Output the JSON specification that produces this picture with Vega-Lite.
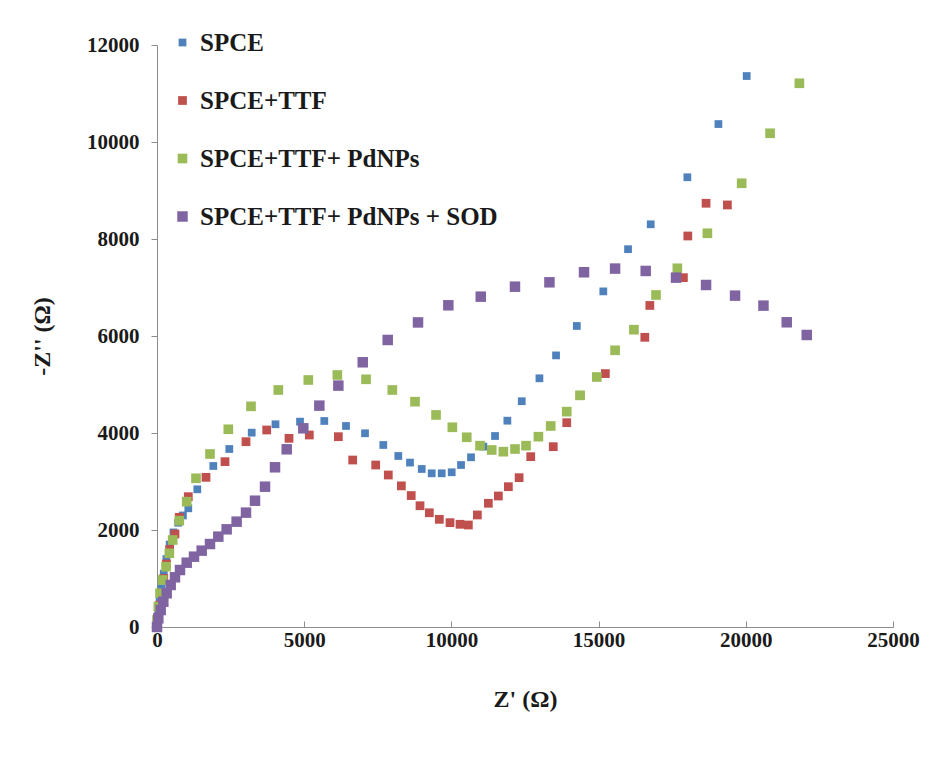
{
  "$schema": "https://vega.github.io/schema/vega-lite/v6.json",
  "width": 736,
  "height": 582,
  "autosize": {"type": "none"},
  "padding": {"left": 157, "top": 45, "right": 42, "bottom": 132},
  "background": "white",
  "config": {"view": {"stroke": null}, "font": "Liberation Serif"},
  "datasets": {
    "pts": [
      {"s":"SPCE","x":0,"y":0},{"s":"SPCE","x":40,"y":250},{"s":"SPCE","x":90,"y":520},{"s":"SPCE","x":150,"y":800},{"s":"SPCE","x":230,"y":1100},{"s":"SPCE","x":320,"y":1400},{"s":"SPCE","x":430,"y":1700},{"s":"SPCE","x":560,"y":1950},{"s":"SPCE","x":720,"y":2150},{"s":"SPCE","x":880,"y":2300},{"s":"SPCE","x":1063,"y":2447},{"s":"SPCE","x":1369,"y":2839},{"s":"SPCE","x":1913,"y":3320},{"s":"SPCE","x":2456,"y":3670},{"s":"SPCE","x":3217,"y":4007},{"s":"SPCE","x":4025,"y":4180},{"s":"SPCE","x":4858,"y":4234},{"s":"SPCE","x":5683,"y":4248},{"s":"SPCE","x":6420,"y":4145},{"s":"SPCE","x":7066,"y":3994},{"s":"SPCE","x":7687,"y":3753},{"s":"SPCE","x":8197,"y":3526},{"s":"SPCE","x":8594,"y":3390},{"s":"SPCE","x":8992,"y":3258},{"s":"SPCE","x":9331,"y":3169},{"s":"SPCE","x":9671,"y":3169},{"s":"SPCE","x":10010,"y":3190},{"s":"SPCE","x":10327,"y":3340},{"s":"SPCE","x":10667,"y":3499},{"s":"SPCE","x":11085,"y":3720},{"s":"SPCE","x":11482,"y":3938},{"s":"SPCE","x":11901,"y":4254},{"s":"SPCE","x":12390,"y":4655},{"s":"SPCE","x":12990,"y":5128},{"s":"SPCE","x":13555,"y":5600},{"s":"SPCE","x":14260,"y":6207},{"s":"SPCE","x":15160,"y":6920},{"s":"SPCE","x":16000,"y":7790},{"s":"SPCE","x":16770,"y":8303},{"s":"SPCE","x":18015,"y":9273},{"s":"SPCE","x":19070,"y":10370},{"s":"SPCE","x":20030,"y":11360},
      {"s":"SPCE+TTF","x":0,"y":0},{"s":"SPCE+TTF","x":40,"y":200},{"s":"SPCE+TTF","x":90,"y":450},{"s":"SPCE+TTF","x":150,"y":700},{"s":"SPCE+TTF","x":230,"y":1000},{"s":"SPCE+TTF","x":320,"y":1300},{"s":"SPCE+TTF","x":430,"y":1600},{"s":"SPCE+TTF","x":611,"y":1918},{"s":"SPCE+TTF","x":757,"y":2262},{"s":"SPCE+TTF","x":1063,"y":2687},{"s":"SPCE+TTF","x":1665,"y":3086},{"s":"SPCE+TTF","x":2310,"y":3409},{"s":"SPCE+TTF","x":3023,"y":3821},{"s":"SPCE+TTF","x":3727,"y":4062},{"s":"SPCE+TTF","x":4484,"y":3890},{"s":"SPCE+TTF","x":5174,"y":3959},{"s":"SPCE+TTF","x":6160,"y":3924},{"s":"SPCE+TTF","x":6647,"y":3443},{"s":"SPCE+TTF","x":7429,"y":3340},{"s":"SPCE+TTF","x":7857,"y":3134},{"s":"SPCE+TTF","x":8300,"y":2910},{"s":"SPCE+TTF","x":8635,"y":2710},{"s":"SPCE+TTF","x":8934,"y":2500},{"s":"SPCE+TTF","x":9250,"y":2355},{"s":"SPCE+TTF","x":9590,"y":2220},{"s":"SPCE+TTF","x":9953,"y":2151},{"s":"SPCE+TTF","x":10293,"y":2118},{"s":"SPCE+TTF","x":10576,"y":2103},{"s":"SPCE+TTF","x":10882,"y":2310},{"s":"SPCE+TTF","x":11255,"y":2551},{"s":"SPCE+TTF","x":11595,"y":2701},{"s":"SPCE+TTF","x":11935,"y":2893},{"s":"SPCE+TTF","x":12300,"y":3079},{"s":"SPCE+TTF","x":12695,"y":3512},{"s":"SPCE+TTF","x":13460,"y":3718},{"s":"SPCE+TTF","x":13918,"y":4213},{"s":"SPCE+TTF","x":14370,"y":4770},{"s":"SPCE+TTF","x":15230,"y":5225},{"s":"SPCE+TTF","x":16570,"y":5973},{"s":"SPCE+TTF","x":16740,"y":6630},{"s":"SPCE+TTF","x":17880,"y":7203},{"s":"SPCE+TTF","x":18030,"y":8062},{"s":"SPCE+TTF","x":18650,"y":8737},{"s":"SPCE+TTF","x":19375,"y":8702},
      {"s":"SPCE+TTF+ PdNPs","x":0,"y":144},{"s":"SPCE+TTF+ PdNPs","x":45,"y":419},{"s":"SPCE+TTF+ PdNPs","x":102,"y":695},{"s":"SPCE+TTF+ PdNPs","x":193,"y":969},{"s":"SPCE+TTF+ PdNPs","x":306,"y":1243},{"s":"SPCE+TTF+ PdNPs","x":419,"y":1520},{"s":"SPCE+TTF+ PdNPs","x":533,"y":1794},{"s":"SPCE+TTF+ PdNPs","x":757,"y":2192},{"s":"SPCE+TTF+ PdNPs","x":1009,"y":2584},{"s":"SPCE+TTF+ PdNPs","x":1325,"y":3066},{"s":"SPCE+TTF+ PdNPs","x":1800,"y":3567},{"s":"SPCE+TTF+ PdNPs","x":2422,"y":4077},{"s":"SPCE+TTF+ PdNPs","x":3193,"y":4550},{"s":"SPCE+TTF+ PdNPs","x":4121,"y":4887},{"s":"SPCE+TTF+ PdNPs","x":5140,"y":5093},{"s":"SPCE+TTF+ PdNPs","x":6126,"y":5196},{"s":"SPCE+TTF+ PdNPs","x":7100,"y":5107},{"s":"SPCE+TTF+ PdNPs","x":7993,"y":4887},{"s":"SPCE+TTF+ PdNPs","x":8764,"y":4646},{"s":"SPCE+TTF+ PdNPs","x":9478,"y":4372},{"s":"SPCE+TTF+ PdNPs","x":10032,"y":4118},{"s":"SPCE+TTF+ PdNPs","x":10521,"y":3912},{"s":"SPCE+TTF+ PdNPs","x":10973,"y":3739},{"s":"SPCE+TTF+ PdNPs","x":11370,"y":3650},{"s":"SPCE+TTF+ PdNPs","x":11765,"y":3615},{"s":"SPCE+TTF+ PdNPs","x":12160,"y":3670},{"s":"SPCE+TTF+ PdNPs","x":12535,"y":3739},{"s":"SPCE+TTF+ PdNPs","x":12955,"y":3924},{"s":"SPCE+TTF+ PdNPs","x":13374,"y":4145},{"s":"SPCE+TTF+ PdNPs","x":13918,"y":4440},{"s":"SPCE+TTF+ PdNPs","x":14370,"y":4777},{"s":"SPCE+TTF+ PdNPs","x":14940,"y":5155},{"s":"SPCE+TTF+ PdNPs","x":15560,"y":5705},{"s":"SPCE+TTF+ PdNPs","x":16200,"y":6130},{"s":"SPCE+TTF+ PdNPs","x":16950,"y":6846},{"s":"SPCE+TTF+ PdNPs","x":17675,"y":7396},{"s":"SPCE+TTF+ PdNPs","x":18695,"y":8118},{"s":"SPCE+TTF+ PdNPs","x":19860,"y":9149},{"s":"SPCE+TTF+ PdNPs","x":20825,"y":10180},{"s":"SPCE+TTF+ PdNPs","x":21820,"y":11211},
      {"s":"SPCE+TTF+ PdNPs + SOD","x":0,"y":0},{"s":"SPCE+TTF+ PdNPs + SOD","x":45,"y":179},{"s":"SPCE+TTF+ PdNPs + SOD","x":125,"y":350},{"s":"SPCE+TTF+ PdNPs + SOD","x":215,"y":522},{"s":"SPCE+TTF+ PdNPs + SOD","x":329,"y":695},{"s":"SPCE+TTF+ PdNPs + SOD","x":465,"y":866},{"s":"SPCE+TTF+ PdNPs + SOD","x":611,"y":1025},{"s":"SPCE+TTF+ PdNPs + SOD","x":781,"y":1175},{"s":"SPCE+TTF+ PdNPs + SOD","x":1009,"y":1326},{"s":"SPCE+TTF+ PdNPs + SOD","x":1257,"y":1450},{"s":"SPCE+TTF+ PdNPs + SOD","x":1518,"y":1574},{"s":"SPCE+TTF+ PdNPs + SOD","x":1800,"y":1711},{"s":"SPCE+TTF+ PdNPs + SOD","x":2083,"y":1863},{"s":"SPCE+TTF+ PdNPs + SOD","x":2366,"y":2014},{"s":"SPCE+TTF+ PdNPs + SOD","x":2705,"y":2172},{"s":"SPCE+TTF+ PdNPs + SOD","x":3023,"y":2358},{"s":"SPCE+TTF+ PdNPs + SOD","x":3329,"y":2604},{"s":"SPCE+TTF+ PdNPs + SOD","x":3669,"y":2893},{"s":"SPCE+TTF+ PdNPs + SOD","x":4009,"y":3293},{"s":"SPCE+TTF+ PdNPs + SOD","x":4406,"y":3664},{"s":"SPCE+TTF+ PdNPs + SOD","x":4970,"y":4097},{"s":"SPCE+TTF+ PdNPs + SOD","x":5514,"y":4564},{"s":"SPCE+TTF+ PdNPs + SOD","x":6160,"y":4977},{"s":"SPCE+TTF+ PdNPs + SOD","x":6988,"y":5458},{"s":"SPCE+TTF+ PdNPs + SOD","x":7837,"y":5918},{"s":"SPCE+TTF+ PdNPs + SOD","x":8866,"y":6280},{"s":"SPCE+TTF+ PdNPs + SOD","x":9896,"y":6633},{"s":"SPCE+TTF+ PdNPs + SOD","x":10997,"y":6811},{"s":"SPCE+TTF+ PdNPs + SOD","x":12160,"y":7017},{"s":"SPCE+TTF+ PdNPs + SOD","x":13330,"y":7107},{"s":"SPCE+TTF+ PdNPs + SOD","x":14505,"y":7314},{"s":"SPCE+TTF+ PdNPs + SOD","x":15560,"y":7390},{"s":"SPCE+TTF+ PdNPs + SOD","x":16600,"y":7341},{"s":"SPCE+TTF+ PdNPs + SOD","x":17630,"y":7203},{"s":"SPCE+TTF+ PdNPs + SOD","x":18650,"y":7052},{"s":"SPCE+TTF+ PdNPs + SOD","x":19635,"y":6832},{"s":"SPCE+TTF+ PdNPs + SOD","x":20600,"y":6626},{"s":"SPCE+TTF+ PdNPs + SOD","x":21390,"y":6283},{"s":"SPCE+TTF+ PdNPs + SOD","x":22070,"y":6021}
    ]
  },
  "data": {"name": "pts"},
  "mark": {"type": "point", "shape": "square", "filled": true, "opacity": 1},
  "encoding": {
    "x": {
      "field": "x", "type": "quantitative",
      "scale": {"domain": [0, 25000], "nice": false},
      "axis": {
        "values": [0, 5000, 10000, 15000, 20000, 25000], "format": "d",
        "grid": false, "title": "Z' (Ω)",
        "domainColor": "#8c8c8c", "tickColor": "#8c8c8c", "tickSize": -6,
        "labelFont": "Liberation Serif", "labelFontWeight": "bold", "labelFontSize": 21, "labelColor": "#1a1a1a", "labelPadding": 8,
        "titleFont": "Liberation Serif", "titleFontWeight": "bold", "titleFontSize": 24, "titleColor": "#1a1a1a", "titlePadding": 37,
        "labelFlush": false
      }
    },
    "y": {
      "field": "y", "type": "quantitative",
      "scale": {"domain": [0, 12000], "nice": false},
      "axis": {
        "values": [0, 2000, 4000, 6000, 8000, 10000, 12000], "format": "d",
        "grid": false, "title": "-Z'' (Ω)",
        "domainColor": "#8c8c8c", "tickColor": "#8c8c8c", "tickSize": 6,
        "labelFont": "Liberation Serif", "labelFontWeight": "bold", "labelFontSize": 21, "labelColor": "#1a1a1a", "labelPadding": 12,
        "titleFont": "Liberation Serif", "titleFontWeight": "bold", "titleFontSize": 24, "titleColor": "#1a1a1a", "titlePadding": 32,
        "labelFlush": false
      }
    },
    "color": {
      "field": "s", "type": "nominal",
      "scale": {"domain": ["SPCE", "SPCE+TTF", "SPCE+TTF+ PdNPs", "SPCE+TTF+ PdNPs + SOD"], "range": ["#4F81BD", "#C0504D", "#9BBB59", "#8064A2"]},
      "legend": {
        "title": null, "orient": "none", "legendX": 13, "legendY": -15,
        "symbolType": "square", "symbolSize": 50, "symbolOpacity": 1, "symbolStrokeWidth": 0,
        "labelFont": "Liberation Serif", "labelFontWeight": "bold", "labelFontSize": 25, "labelColor": "#1a1a1a",
        "labelOffset": 5, "rowPadding": 32, "labelLimit": 400
      }
    },
    "size": {
      "field": "s", "type": "nominal",
      "scale": {"domain": ["SPCE", "SPCE+TTF", "SPCE+TTF+ PdNPs", "SPCE+TTF+ PdNPs + SOD"], "range": [60, 110, 110, 110]},
      "legend": null
    }
  }
}
